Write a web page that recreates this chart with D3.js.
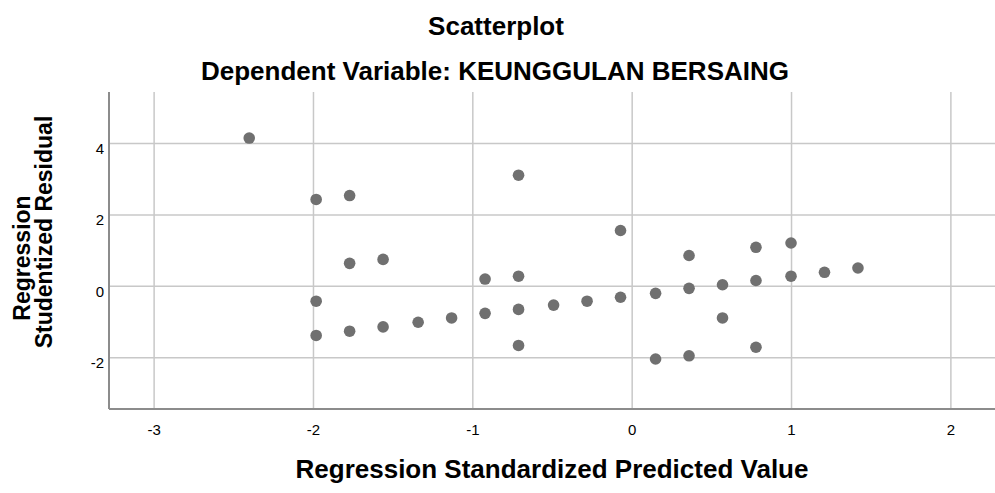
<!DOCTYPE html>
<html>
<head>
<meta charset="utf-8">
<script src="https://cdn.jsdelivr.net/npm/d3@7"></script>
<style>
  body { margin: 0; background: #fff; }
  svg text { font-family: "Liberation Sans", Arial, sans-serif; fill: #000; }
</style>
</head>
<body>
<div id="chart"></div>
<script>
(function () {
  "use strict";

  // standardized predicted value (x) and studentized residual (y), one pair per case
  let predicted = [
    -2.40, -1.98, -1.98, -1.98, -1.77, -1.77, -1.77, -1.56, -1.56, -1.34,
    -1.13, -0.92, -0.92, -0.71, -0.71, -0.71, -0.71, -0.49, -0.28, -0.07,
    -0.07, 0.15, 0.15, 0.36, 0.36, 0.36, 0.57, 0.57, 0.78, 0.78,
    0.78, 1.00, 1.00, 1.21, 1.42
  ]
  let residual = [
    4.14, 2.42, -0.43, -1.39, 2.53, 0.63, -1.27, 0.74, -1.15, -1.02,
    -0.90, 0.19, -0.77, 3.10, 0.27, -0.66, -1.67, -0.54, -0.43, 1.55,
    -0.32, -0.21, -2.05, 0.85, -0.07, -1.96, 0.03, -0.90, 1.08, 0.15,
    -1.72, 1.20, 0.27, 0.38, 0.50
  ]
  let xTicks = [-3, -2, -1, 0, 1, 2]
  let yTicks = [-2, 0, 2, 4]

  let title = 'Scatterplot'
  let subtitle = 'Dependent Variable: KEUNGGULAN BERSAING'
  let xTitle = 'Regression Standardized Predicted Value'
  let yTitle = ['Regression', 'Studentized Residual']

  let W = 995, H = 493
  let left = 109, right = 995, top = 92, bottom = 409

  let svg = d3.select('#chart').append('svg')
    .attr('width', W)
    .attr('height', H)

  let x = d3.scaleLinear().domain([-3.28, 2.28]).range([left, right])
  let y = d3.scaleLinear().domain([-3.45, 5.43]).range([bottom, top])

  // plain hyphen minus, like the original
  let fmt = function(d){ return String(d) }

  // x grid + labels
  let gx = svg.append('g')
    .attr('transform', `translate(0,${bottom})`)
    .call(d3.axisBottom(x).tickValues(xTicks).tickSize(-(bottom - top)).tickPadding(15).tickFormat(fmt))
  gx.select('.domain').remove()
  gx.selectAll('line').attr('stroke', '#c8c8c8').attr('stroke-width', 1.5)
  gx.selectAll('text').attr('font-size', 15).attr('fill', '#000')

  // y grid + labels
  let gy = svg.append('g')
    .attr('transform', `translate(${left},0)`)
    .call(d3.axisLeft(y).tickValues(yTicks).tickSize(-(right - left)).tickPadding(5).tickFormat(fmt))
  gy.select('.domain').remove()
  gy.selectAll('line').attr('stroke', '#c8c8c8').attr('stroke-width', 1.5)
  gy.selectAll('text').attr('font-size', 15).attr('fill', '#000').attr('dy', '0.7em')

  // axis lines
  svg.append('line')
    .attr('x1', left).attr('x2', left).attr('y1', top).attr('y2', bottom)
    .attr('stroke', '#8c8c8c').attr('stroke-width', 2)
  svg.append('line')
    .attr('x1', left).attr('x2', right).attr('y1', bottom).attr('y2', bottom)
    .attr('stroke', '#8c8c8c').attr('stroke-width', 2)

  svg.append('g').selectAll('circle')
    .data(predicted)
    .enter().append('circle')
      .attr('cx', function(d){ return x(d) })
      .attr('cy', function(d, i){ return y(residual[i]) })
      .attr('r', 5.8)
      .attr('fill', '#707070')

  svg.append('text')
    .attr('x', 496).attr('y', 35)
    .attr('text-anchor', 'middle')
    .attr('font-size', 26).attr('font-weight', 'bold')
    .text(title)

  svg.append('text')
    .attr('x', 495).attr('y', 79.5)
    .attr('text-anchor', 'middle')
    .attr('font-size', 26).attr('font-weight', 'bold')
    .text(subtitle)

  svg.append('text')
    .attr('x', (left + right) / 2).attr('y', 478)
    .attr('text-anchor', 'middle')
    .attr('font-size', 26).attr('font-weight', 'bold')
    .text(xTitle)

  let yTitleMid = [258, 232]
  yTitle.forEach(function(line, i){
    svg.append('text')
      .attr('transform', `translate(${30 + i * 22},${yTitleMid[i]}) rotate(-90)`)
      .attr('text-anchor', 'middle')
      .attr('font-size', 23).attr('font-weight', 'bold')
      .text(line)
  })

}());
</script>
</body>
</html>
